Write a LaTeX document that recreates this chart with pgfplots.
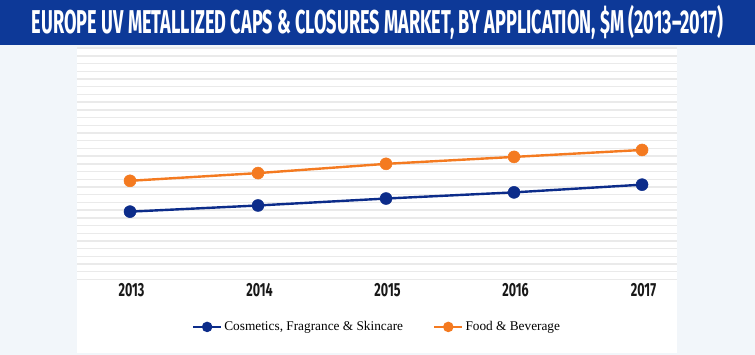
\documentclass[border=0pt]{standalone}
\usepackage{fontspec}
\setmainfont{Liberation Serif}
\newfontfamily\cond[FakeStretch=0.66]{Fira Sans}
\usepackage{graphicx}
\usepackage{pgfplots}
\pgfplotsset{compat=1.18}
\definecolor{titleblue}{RGB}{13,57,152}
\definecolor{lineblue}{RGB}{12,44,138}
\definecolor{lineorange}{RGB}{244,122,32}
\definecolor{bggray}{RGB}{242,246,250}
\definecolor{gridgray}{RGB}{234,234,234}
\begin{document}
\begin{tikzpicture}[x=1pt,y=1pt]
\useasboundingbox (0,0) rectangle (755,355);
\fill[bggray] (0,0) rectangle (755,355);
\fill[white] (77,2) rectangle (677,308);
\fill[titleblue] (0,310) rectangle (755,355);
\node[text=white,inner sep=0pt] at (377.5,332.5) {\resizebox{691pt}{\height}{\cond\bfseries\fontsize{33}{33}\selectfont EUROPE UV METALLIZED CAPS \& CLOSURES MARKET, BY APPLICATION, \$M (2013–2017)}};
\begin{axis}[
  at={(77pt,75.5pt)}, anchor=south west,
  scale only axis, width=600pt, height=231.3pt,
  xmin=-0.414, xmax=4.273, ymin=0, ymax=30,
  axis line style={draw=none},
  ytick={0,1,...,30}, yticklabels={},
  ymajorgrids, grid style={gridgray, line width=1.4pt},
  major tick length=0pt,
  xtick={0,1,2,3,4}, xticklabels={2013,2014,2015,2016,2017},
  xticklabel style={inner sep=0pt, anchor=north, xshift=1.5pt, yshift=-3.5pt, text=black!90, font=\cond\bfseries\fontsize{19}{19}\selectfont},
  clip=false,
  legend columns=2,
  legend style={at={(0.5,-0.205)}, anchor=center, draw=none, fill=none, font=\fontsize{13.3}{13.3}\selectfont,
    /tikz/every even column/.append style={column sep=28pt}},
  legend image code/.code={\draw[#1,mark=none] (0pt,0pt) -- (28pt,0pt); \fill[#1] (14pt,0pt) circle (4pt);},
]
\addplot[lineblue, line width=2.4pt, mark=*, mark size=6pt, mark options={fill=lineblue, draw=lineblue, line width=0.5pt}]
  coordinates {(0,8.8) (1,9.6) (2,10.5) (3,11.3) (4,12.3)};
\addlegendentry{Cosmetics, Fragrance \& Skincare}
\addplot[lineorange, line width=2.4pt, mark=*, mark size=6pt, mark options={fill=lineorange, draw=lineorange, line width=0.5pt}]
  coordinates {(0,12.8) (1,13.8) (2,15.0) (3,15.9) (4,16.8)};
\addlegendentry{Food \& Beverage}
\end{axis}
\end{tikzpicture}
\end{document}
